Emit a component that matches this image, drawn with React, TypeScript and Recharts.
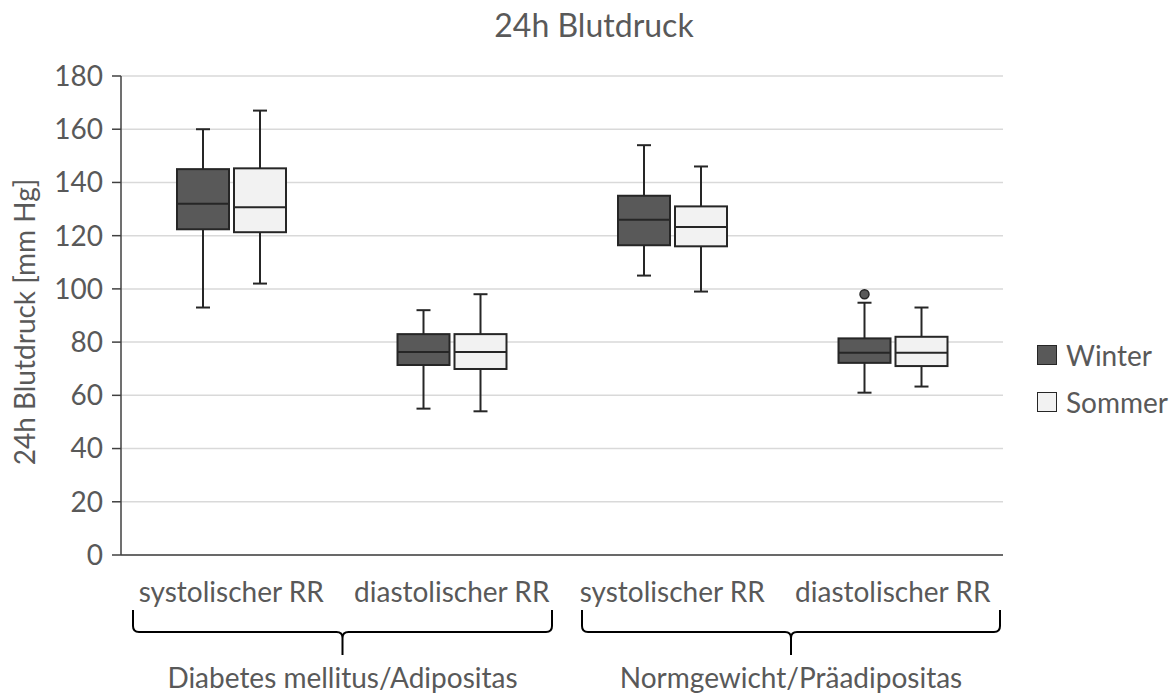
import React from 'react';
import { ComposedChart, Bar, XAxis, YAxis, CartesianGrid } from 'recharts';

// ---------- data ----------
const categories = ['systolischer RR', 'diastolischer RR', 'systolischer RR', 'diastolischer RR'];
const groups = ['Diabetes mellitus/Adipositas', 'Normgewicht/Präadipositas'];
const seriesNames = ['Winter', 'Sommer'];
const yTicks = [0, 20, 40, 60, 80, 100, 120, 140, 160, 180];

const winterMin = [93, 55, 105, 61];
const winterQ1 = [122.4, 71.4, 116.4, 72.2];
const winterMedian = [132, 76.3, 126, 76];
const winterQ3 = [145, 83, 135, 81.4];
const winterMax = [160, 92, 154, 94.8];
const winterOutliers = [[], [], [], [98]];

const sommerMin = [102, 54, 99, 63.3];
const sommerQ1 = [121.3, 69.9, 116, 71];
const sommerMedian = [130.7, 76.3, 123.3, 76];
const sommerQ3 = [145.3, 83, 131, 82];
const sommerMax = [167, 98, 146, 93];
const sommerOutliers = [[], [], [], []];

// ---------- layout / style ----------
const W = 1173;
const H = 694;
const MARGIN = { top: 76, right: 170, bottom: 19, left: 61 };
const Y_AXIS_W = 60;
const X_AXIS_H = 120;
const FONT = 'Lato, "Noto Sans", sans-serif';
const TEXT = '#595959';
const LINE = '#262626';
const WINTER_FILL = '#595959';
const SOMMER_FILL = '#f2f2f2';
const BRACE_INSETS = [
  { l: 12, r: 10 },
  { l: 20, r: 3 },
];

type Stats = { min: number; q1: number; med: number; q3: number; max: number; out: number[] };

const rows = categories.map((cat, i) => ({
  cat,
  winter: {
    min: winterMin[i], q1: winterQ1[i], med: winterMedian[i], q3: winterQ3[i], max: winterMax[i], out: winterOutliers[i],
  } as Stats,
  sommer: {
    min: sommerMin[i], q1: sommerQ1[i], med: sommerMedian[i], q3: sommerQ3[i], max: sommerMax[i], out: sommerOutliers[i],
  } as Stats,
}));

const makeBoxShape = (key: 'winter' | 'sommer', fill: string) => (props: any) => {
  const { x, y, width, height, payload } = props;
  const s: Stats = payload[key];
  if (height == null || !isFinite(height)) return <g />;
  const k = height / (s.max - s.min);
  const py = (v: number) => y + (s.max - v) * k;
  const cx = x + width / 2;
  const cap = 7;
  return (
    <g>
      <line x1={cx} x2={cx} y1={py(s.max)} y2={py(s.q3)} stroke={LINE} strokeWidth={2} />
      <line x1={cx} x2={cx} y1={py(s.q1)} y2={py(s.min)} stroke={LINE} strokeWidth={2} />
      <line x1={cx - cap} x2={cx + cap} y1={py(s.max)} y2={py(s.max)} stroke={LINE} strokeWidth={2} />
      <line x1={cx - cap} x2={cx + cap} y1={py(s.min)} y2={py(s.min)} stroke={LINE} strokeWidth={2} />
      <rect x={x} y={py(s.q3)} width={width} height={py(s.q1) - py(s.q3)} fill={fill} stroke={LINE} strokeWidth={2} />
      <line x1={x} x2={x + width} y1={py(s.med)} y2={py(s.med)} stroke={LINE} strokeWidth={2} />
      {s.out.map((o, j) => (
        <circle key={j} cx={cx} cy={py(o)} r={4.5} fill={WINTER_FILL} stroke={LINE} strokeWidth={1.5} />
      ))}
    </g>
  );
};

const XTick = (props: any) => {
  const { x, y, payload } = props;
  const i: number = payload.index;
  const half: number =
    payload.offset && payload.offset > 0 ? payload.offset : (W - MARGIN.left - Y_AXIS_W - MARGIN.right) / categories.length / 2;
  const els: React.ReactNode[] = [
    <text key="t" x={x} y={y + 47} textAnchor="middle" fill={TEXT} fontSize={28} fontFamily={FONT}>
      {categories[i]}
    </text>,
  ];
  if (i % 2 === 0) {
    const g = i / 2;
    const L = x - half + BRACE_INSETS[g].l;
    const R = x + 3 * half - BRACE_INSETS[g].r;
    const C = (L + R) / 2;
    const t = y + 55;
    const h = y + 77;
    const b = y + 100;
    const d = `M ${L} ${t} L ${L} ${h - 6} Q ${L} ${h} ${L + 6} ${h} L ${C - 6} ${h} Q ${C} ${h} ${C} ${h + 6} L ${C} ${b} M ${C} ${h + 6} Q ${C} ${h} ${C + 6} ${h} L ${R - 6} ${h} Q ${R} ${h} ${R} ${h - 6} L ${R} ${t}`;
    els.push(<path key="b" d={d} fill="none" stroke="#000" strokeWidth={2} />);
    els.push(
      <text key="g" x={C} y={y + 133} textAnchor="middle" fill={TEXT} fontSize={28} fontFamily={FONT}>
        {groups[g]}
      </text>
    );
  }
  return <g>{els}</g>;
};

export default function App() {
  return (
    <div style={{ position: 'absolute', left: 0, top: 0, width: W, height: H, background: '#fff', fontFamily: FONT }}>
      <div
        style={{
          position: 'absolute', left: 294, top: 6, width: 600, textAlign: 'center',
          fontSize: 32, lineHeight: 1.2, color: TEXT, fontFamily: FONT,
        }}
      >
        24h Blutdruck
      </div>
      <div
        style={{
          position: 'absolute', left: 24 - 200, top: 322 - 20, width: 400, height: 40, lineHeight: '40px',
          textAlign: 'center', fontSize: 28, color: TEXT, transform: 'rotate(-90deg)', transformOrigin: '50% 50%',
          fontFamily: FONT, whiteSpace: 'nowrap',
        }}
      >
        24h Blutdruck [mm Hg]
      </div>
      <ComposedChart width={W} height={H} data={rows} margin={MARGIN} barSize={52} barGap={5}>
        <CartesianGrid vertical={false} stroke="#d9d9d9" strokeWidth={1.5} />
        <XAxis
          dataKey="cat"
          height={X_AXIS_H}
          interval={0}
          tickLine={false}
          tickSize={0}
          tickMargin={0}
          axisLine={{ stroke: '#404040', strokeWidth: 1.5 }}
          tick={<XTick />}
        />
        <YAxis
          width={Y_AXIS_W}
          domain={[0, 180]}
          ticks={yTicks}
          interval={0}
          tickSize={9}
          tickMargin={9}
          axisLine={{ stroke: '#404040', strokeWidth: 1.5 }}
          tickLine={{ stroke: '#404040', strokeWidth: 1.5 }}
          tick={{ fill: TEXT, fontSize: 28, fontFamily: FONT }}
        />
        <Bar
          dataKey={(d: any) => [d.winter.min, d.winter.max]}
          name={seriesNames[0]}
          isAnimationActive={false}
          shape={makeBoxShape('winter', WINTER_FILL)}
        />
        <Bar
          dataKey={(d: any) => [d.sommer.min, d.sommer.max]}
          name={seriesNames[1]}
          isAnimationActive={false}
          shape={makeBoxShape('sommer', SOMMER_FILL)}
        />
      </ComposedChart>
      {seriesNames.map((n, i) => (
        <div
          key={n}
          style={{
            position: 'absolute', left: 1037, top: (i === 0 ? 355 : 402) - 20, height: 40,
            display: 'flex', alignItems: 'center', fontSize: 28, color: TEXT, fontFamily: FONT, whiteSpace: 'nowrap',
          }}
        >
          <span
            style={{
              display: 'inline-block', width: 20, height: 20, boxSizing: 'border-box',
              border: `1.5px solid ${LINE}`, background: i === 0 ? WINTER_FILL : SOMMER_FILL, marginRight: 9,
            }}
          />
          {n}
        </div>
      ))}
    </div>
  );
}
